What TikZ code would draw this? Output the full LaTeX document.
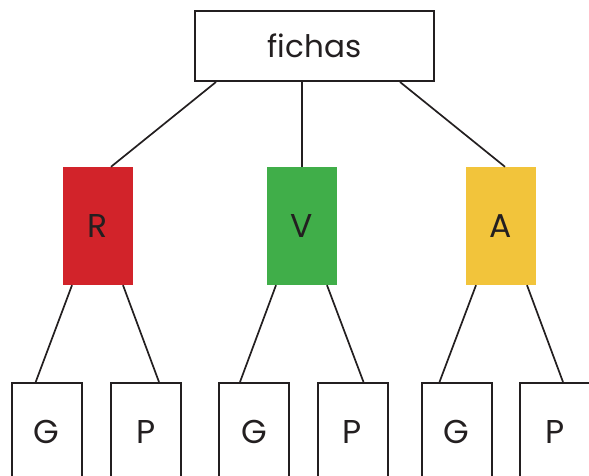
\documentclass[tikz,border=0pt]{standalone}
\usepackage{fontspec}
\setmainfont{Poppins}
\usepackage{xcolor}
\usetikzlibrary{positioning}
\definecolor{ink}{HTML}{231F20}
\definecolor{rojo}{HTML}{D2232A}
\definecolor{verde}{HTML}{40AE49}
\definecolor{amarillo}{HTML}{F2C43B}

\begin{document}
\begin{tikzpicture}[
  x=1pt, y=1pt,
  box/.style={draw=ink, line width=2pt, minimum width=70pt, minimum height=98pt, inner sep=0pt, text=ink, font=\fontsize{33}{33}\selectfont},
  chip/.style={minimum width=70pt, minimum height=118pt, inner sep=0pt, text=ink, font=\fontsize{33}{33}\selectfont},
  link/.style={draw=ink, line width=1.7pt}
]
  \clip (0,0) rectangle (589,475);
  \node[box, minimum width=239pt, minimum height=70pt, font=\fontsize{31}{31}\selectfont] (fichas) at (314.5,429) {fichas};
  % colour level
  \node[chip, fill=rojo] (R) at (98,249) {R};
  \node[chip, fill=verde] (V) at (302,249) {V};
  \node[chip, fill=amarillo] (A) at (501,249) {A};
  % leaves
  \node[box] (RG) at (46.7,43) {G};
  \node[box] (RP) at (146,43) {P};
  \node[box] (VG) at (254,43) {G};
  \node[box] (VP) at (352.5,43) {P};
  \node[box] (AG) at (456.5,43) {G};
  \node[box] (AP) at (555,43) {P};
  \draw[link] ([xshift=22pt]fichas.south west) -- ([xshift=13pt]R.north);
  \draw[link] ([xshift=-12.5pt]fichas.south) -- (V.north);
  \draw[link] ([xshift=-35pt]fichas.south east) -- ([xshift=4pt]A.north);
  \draw[link] ([xshift=-26pt]R.south) -- ([xshift=-11pt]RG.north);
  \draw[link] ([xshift=25pt]R.south) -- ([xshift=13pt]RP.north);
  \draw[link] ([xshift=-26pt]V.south) -- ([xshift=-14pt]VG.north);
  \draw[link] ([xshift=25pt]V.south) -- ([xshift=11pt]VP.north);
  \draw[link] ([xshift=-25pt]A.south) -- ([xshift=-17pt]AG.north);
  \draw[link] ([xshift=26pt]A.south) -- ([xshift=8pt]AP.north);
\end{tikzpicture}
\end{document}
